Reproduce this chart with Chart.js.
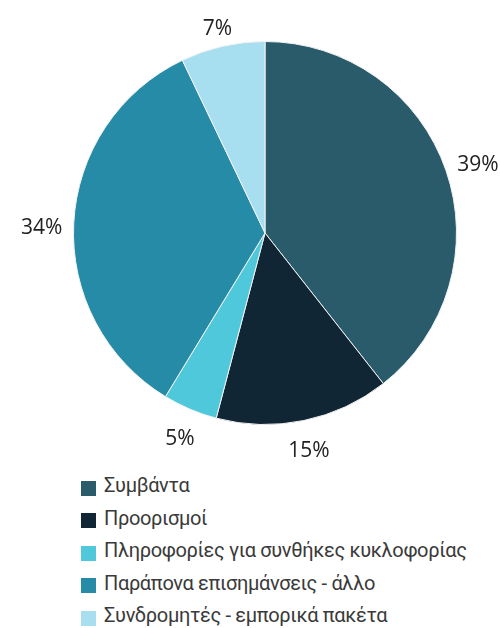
<!DOCTYPE html>
<html>
<head>
<meta charset="utf-8">
<script src="https://cdn.jsdelivr.net/npm/chart.js@4.4.0/dist/chart.umd.min.js"></script>
<style>
  body { margin: 0; background: #fff; width: 500px; height: 628px; overflow: hidden; position: relative; }
  canvas { position: absolute; left: 0; top: 0; }
  #legend { position: absolute; left: 81px; top: 469px; margin: 0; padding: 0; list-style: none;
            font-family: Roboto, sans-serif; font-size: 20px; letter-spacing: -0.35px; color: #3a3a3a; }
  #legend li { height: 32.5px; display: flex; align-items: center; white-space: nowrap; }
  #legend .box { width: 15px; height: 15px; margin-right: 8px; flex: none; position: relative; top: 3px; }
</style>
</head>
<body>
<canvas id="pie" width="500" height="460"></canvas>
<ul id="legend"></ul>
<script>
const categories = [
  'Συμβάντα',
  'Προορισμοί',
  'Πληροφορίες για συνθήκες κυκλοφορίας',
  'Παράπονα επισημάνσεις - άλλο',
  'Συνδρομητές - εμπορικά πακέτα'
];
const shares = [39.4, 14.7, 4.6, 34.2, 7.1];
const colors = ['#2a5b6b', '#112635', '#4ec8da', '#268ba6', '#a8dff0'];

// percentage labels outside each slice
const outsideLabels = {
  id: 'outsideLabels',
  afterDatasetsDraw(chart) {
    const ctx = chart.ctx;
    const meta = chart.getDatasetMeta(0);
    ctx.save();
    ctx.font = '21px "Open Sans", sans-serif';
    ctx.fillStyle = '#222';
    ctx.textAlign = 'center';
    ctx.textBaseline = 'middle';
    meta.data.forEach((arc, i) => {
      const p = arc.getProps(['x', 'y', 'startAngle', 'endAngle', 'outerRadius'], true);
      const mid = (p.startAngle + p.endAngle) / 2;
      const text = Math.round(shares[i]) + '%';
      const halfW = ctx.measureText(text).width / 2;
      const halfH = 10;
      const r = p.outerRadius + 11 + Math.abs(Math.cos(mid)) * halfW + Math.abs(Math.sin(mid)) * halfH;
      ctx.fillText(text, p.x + Math.cos(mid) * r, p.y + Math.sin(mid) * r + 6);
    });
    ctx.restore();
  }
};

new Chart(document.getElementById('pie'), {
  type: 'pie',
  data: {
    labels: categories,
    datasets: [{
      data: shares,
      backgroundColor: colors,
      borderColor: '#f2f2f2',
      borderWidth: 1
    }]
  },
  options: {
    responsive: false,
    animation: false,
    layout: { padding: { left: 73, right: 43, top: 41, bottom: 35 } },
    plugins: {
      legend: { display: false },
      tooltip: { enabled: false }
    }
  },
  plugins: [outsideLabels]
});

const legend = document.getElementById('legend');
categories.forEach((name, i) => {
  const li = document.createElement('li');
  const box = document.createElement('span');
  box.className = 'box';
  box.style.background = colors[i];
  li.appendChild(box);
  li.appendChild(document.createTextNode(name));
  legend.appendChild(li);
});
</script>
</body>
</html>
